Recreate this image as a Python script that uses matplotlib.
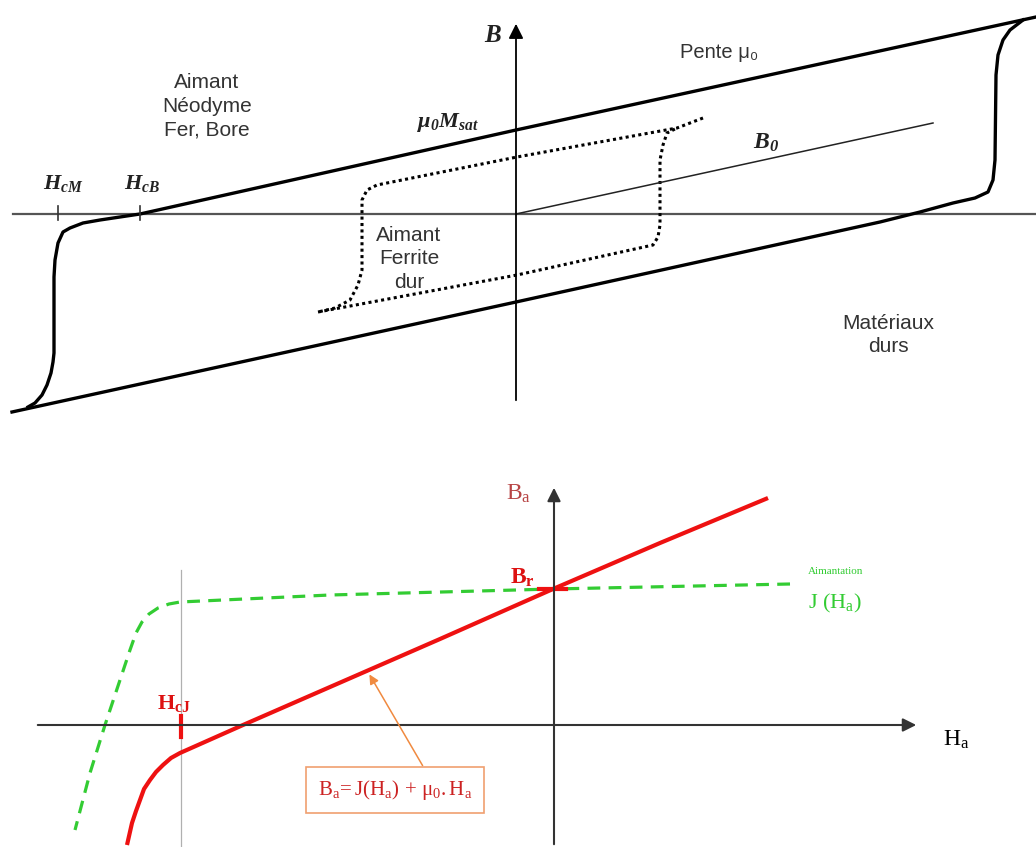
import matplotlib
matplotlib.use("Agg")
import matplotlib.pyplot as plt

plt.rcParams['mathtext.fontset'] = 'custom'
plt.rcParams['mathtext.rm'] = 'Liberation Serif'
plt.rcParams['mathtext.it'] = 'Liberation Serif:italic'
plt.rcParams['mathtext.bf'] = 'Liberation Serif:bold'
plt.rcParams['mathtext.bfit'] = 'Liberation Serif:italic:bold'

# --- haut : cycles d'hysteresis (unites arbitraires, lues sur le schema) ---
# aimant NdFeB, branche descendante
nd_desc_h = [520, 0, -376, -416, -433, -446, -453, -458, -461, -462, -462, -463, -465, -469, -474, -481, -488]
nd_desc_b = [197, 84, 0, -6, -9, -14, -18, -29, -46, -63, -139, -148, -159, -171, -181, -189, -193]
# aimant NdFeB, branche montante
nd_asc_h = [-504, 0, 364, 404, 437, 459, 472, 477, 479, 480, 482, 487, 494, 507]
nd_asc_b = [-198, -88, -8, 2, 11, 16, 22, 34, 54, 139, 159, 174, 184, 194]
# ferrite dure (pointilles)
fe_desc_h = [187, 161, 1, -139, -149, -154, -154, -158, -166, -181, -198]
fe_desc_b = [96, 86, 57, 29, 24, 14, -56, -71, -86, -94, -98]
fe_asc_h = [-198, 1, 137, 142, 144, 144, 147, 151, 161]
fe_asc_b = [-98, -61, -31, -23, -11, 54, 69, 81, 86]
# droite B0 (pente mu0)
b0_h = [0, 417]
b0_b = [0, 91]

# --- bas : courbe de desaimantation ---
j_h = [236, -1, -224, -374, -385, -396, -405, -412, -418, -424, -434, -449, -464, -479]
j_b = [141, 136, 130, 123, 121, 117, 111, 103, 92, 75, 45, 0, -48, -105]
ba_h = [214, 106, -1, -114, -224, -311, -374, -383, -391, -398, -404, -410, -414, -418, -422, -427]
ba_b = [227, 182, 136, 86, 38, 0, -28, -33, -40, -47, -55, -64, -75, -86, -98, -120]
hcj = -373

fig = plt.figure(figsize=(10.36, 8.47), dpi=100)

# ================= panneau du haut =================
ax = fig.add_axes([0, 427 / 847, 1, 420 / 847])
ax.set_xlim(-516, 520)
ax.set_ylim(-206, 214)
ax.axis('off')

ax.plot([-503, 520], [0, 0], color='#555555', lw=1.6)
ax.annotate('', xy=(0, 193), xytext=(0, -189),
            arrowprops=dict(arrowstyle='-|>', color='black', lw=1.3, mutation_scale=22))

ax.plot(nd_desc_h, nd_desc_b, color='black', lw=2.4, solid_joinstyle='round')
ax.plot(nd_asc_h, nd_asc_b, color='black', lw=2.4, solid_joinstyle='round')
ax.plot(fe_desc_h, fe_desc_b, color='black', lw=2.2, linestyle=(0, (1, 1.1)))
ax.plot(fe_asc_h, fe_asc_b, color='black', lw=2.2, linestyle=(0, (1, 1.1)))
ax.plot(b0_h, b0_b, color='#222222', lw=1.1)

# petites graduations Hc
ax.plot([-458, -458], [-6, 8], color='#333333', lw=1.2)
ax.plot([-376, -376], [-6, 8], color='#333333', lw=1.2)

serif_bi = dict(color='#222222', ha='center', va='center')
ax.text(-23, 179, r'$\mathbfit{B}$', fontsize=18, **serif_bi)
ax.text(-68, 92, r'$\mathbfit{\mu}_{\mathbfit{0}}\mathbfit{M}_{\mathbfit{sat}}$', fontsize=16, **serif_bi)
ax.text(-453, 31, r'$\mathbfit{H}_{\mathbfit{cM}}$', fontsize=16, **serif_bi)
ax.text(-374, 30, r'$\mathbfit{H}_{\mathbfit{cB}}$', fontsize=16, **serif_bi)
ax.text(250, 72, r'$\mathbfit{B}_{\mathbfit{0}}$', fontsize=17, **serif_bi)

sans = dict(family=['Liberation Sans', 'DejaVu Sans'], color='#333333')
ax.text(164, 161, 'Pente μ₀', fontsize=14.5, ha='left', va='center', **sans)
ax.text(-309, 108, 'Aimant\nNéodyme\nFer, Bore', fontsize=15, ha='center', va='center',
        linespacing=1.3, **sans)
ax.text(-107, -45, 'Aimant\nFerrite\ndur', fontsize=15, ha='center', va='center',
        linespacing=1.3, **sans)
ax.text(372, -121, 'Matériaux\ndurs', fontsize=15, ha='center', va='center',
        linespacing=1.3, **sans)

# ================= panneau du bas =================
bx = fig.add_axes([0, 0, 1, 420 / 847])
bx.set_xlim(-554, 482)
bx.set_ylim(-122, 298)
bx.axis('off')

bx.plot([hcj, hcj], [-122, 155], color='#b0b0b0', lw=0.9)
bx.annotate('', xy=(365, 0), xytext=(-519, 0),
            arrowprops=dict(arrowstyle='-|>', color='#333333', lw=1.5, mutation_scale=20))
bx.annotate('', xy=(0, 240), xytext=(0, -122),
            arrowprops=dict(arrowstyle='-|>', color='#333333', lw=1.5, mutation_scale=20))

bx.plot(j_h, j_b, color='#33cc33', lw=2.3, linestyle=(0, (4, 2.6)))
bx.plot(ba_h, ba_b, color='#ee1111', lw=3.0, solid_capstyle='butt', solid_joinstyle='round')

bx.plot([-15, 12], [136, 136], color='#ee1111', lw=3)
bx.plot([hcj, hcj], [9, -12], color='#ee1111', lw=3)

bx.text(-35, 232, r'$\mathrm{B}_\mathrm{a}$', fontsize=17, color='#b84545', ha='center', va='center')
bx.text(-32, 148, r'$\mathbf{B}_\mathbf{r}$', fontsize=17, color='#dd1111', ha='center', va='center')
bx.text(-380, 22, r'$\mathbf{H}_\mathbf{cJ}$', fontsize=16, color='#dd1111', ha='center', va='center')
bx.text(254, 153, 'Aimantation', fontsize=8, color='#33cc33', family='Liberation Serif',
        ha='left', va='center')
bx.text(254, 122, r'$\mathrm{J\ (H_a)}$', fontsize=16, color='#33cc33', ha='left', va='center')
bx.text(389, -14, r'$\mathrm{H_a}$', fontsize=17, color='black', ha='left', va='center')

bx.annotate('', xy=(-186, 53), xytext=(-130, -43),
            arrowprops=dict(arrowstyle='-|>', color='#f08a40', lw=1.1, mutation_scale=14))
bx.text(-159, -65, r'$\mathrm{B_a\!=J(H_a)\,+\,\mu_0.H_a}$', fontsize=15, color='#cc2222',
        ha='center', va='center',
        bbox=dict(boxstyle='square,pad=0.55', fc='white', ec='#f0a070', lw=1.2))

fig.savefig('out.png', dpi=100)
